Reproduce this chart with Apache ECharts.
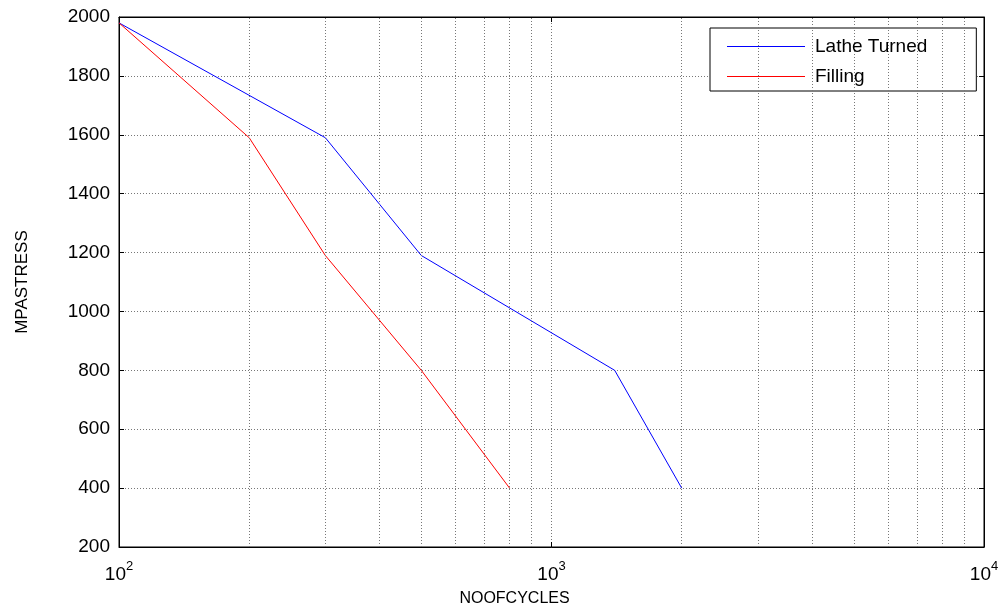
<!DOCTYPE html>
<html>
<head>
<meta charset="utf-8">
<script src="https://cdn.jsdelivr.net/npm/echarts@6/dist/echarts.min.js"></script>
<style>
  html, body { margin: 0; padding: 0; background: #fff; }
  #chart { width: 1003px; height: 612px; }
</style>
</head>
<body>
<div id="chart"></div>
<script>
// cycles vs stress
let latheCycles = [100, 300, 500, 1400, 2000];
let latheStress = [1980, 1590, 1190, 800, 400];
let fillCycles = [100, 200, 300, 500, 800];
let fillStress = [1980, 1590, 1190, 800, 400];

// minor log grid positions (2..9 x 10^n)
let minorX = [200, 300, 400, 500, 600, 700, 800, 900,
  2000, 3000, 4000, 5000, 6000, 7000, 8000, 9000];

const FONT = '"Liberation Sans", Arial, sans-serif';
const GRIDLINE = { color: '#777', type: [1, 2], width: 1 };

let pairs = (xs, ys) => xs.map((x, i) => [x, ys[i]]);

let chart = echarts.init(document.getElementById('chart'), null, { renderer: 'canvas' });

let logAxis = {
  type: 'log',
  logBase: 10,
  min: 100, max: 10000,
  axisLine: { lineStyle: { color: '#000' } },
  axisTick: { inside: true, length: 5, lineStyle: { color: '#000' } },
};

let stressAxis = {
  type: 'value',
  min: 200, max: 2000, interval: 200,
  axisLine: { show: true, lineStyle: { color: '#000' } },
  axisTick: { show: true, inside: true, length: 5, lineStyle: { color: '#000' } },
};

let options = {
  backgroundColor: '#ffffff',
  animation: false,
  textStyle: { fontFamily: FONT, color: '#000' },
  grid: {
    left: 119, right: 19, top: 17, bottom: 64,
    show: true, borderColor: '#000', borderWidth: 1,
  },
  legend: {
    left: 710, top: 28,
    orient: 'vertical',
    backgroundColor: '#fff',
    borderColor: '#000', borderWidth: 1,
    padding: [9, 49, 5, 17],
    itemGap: 11,
    itemWidth: 78, itemHeight: 1,
    icon: 'rect',
    textStyle: { fontFamily: FONT, fontSize: 19, color: '#000', padding: [0, 0, 0, 5] },
    data: ['Lathe Turned', 'Filling'],
  },
  xAxis: [
    {
      ...logAxis,
      name: 'NOOFCYCLES',
      nameLocation: 'middle',
      nameGap: 44,
      nameTextStyle: { fontFamily: FONT, fontSize: 16, color: '#000', padding: [0, 74, 0, 0] },
      axisLabel: {
        margin: 8,
        color: '#000',
        formatter: (v) => '{b|10}{s|' + Math.round(Math.log10(v)) + '}',
        rich: {
          b: { fontFamily: FONT, fontSize: 19, color: '#000', padding: [10, 0, 0, 0] },
          s: { fontFamily: FONT, fontSize: 13, color: '#000', padding: [0, 0, 6, 0] },
        },
      },
      splitLine: { show: true, lineStyle: GRIDLINE },
    },
    {
      ...logAxis,
      position: 'top',
      axisLabel: { show: false },
      splitLine: { show: false },
    },
  ],
  yAxis: [
    {
      ...stressAxis,
      name: 'MPASTRESS',
      nameLocation: 'middle',
      nameGap: 88,
      nameTextStyle: { fontFamily: FONT, fontSize: 17, color: '#000' },
      axisLabel: { fontFamily: FONT, fontSize: 19, color: '#000', margin: 9, formatter: (v) => String(v) },
      splitLine: { show: true, lineStyle: GRIDLINE },
    },
    {
      ...stressAxis,
      position: 'right',
      axisLabel: { show: false },
      splitLine: { show: false },
    },
  ],
  series: [
    {
      name: 'Lathe Turned',
      type: 'line',
      data: pairs(latheCycles, latheStress),
      showSymbol: false,
      color: '#0000ff',
      lineStyle: { width: 1, color: '#0000ff' },
      markLine: {
        silent: true,
        symbol: 'none',
        label: { show: false },
        lineStyle: GRIDLINE,
        data: minorX.map((x) => ({ xAxis: x })),
      },
    },
    {
      name: 'Filling',
      type: 'line',
      data: pairs(fillCycles, fillStress),
      showSymbol: false,
      color: '#ff0000',
      lineStyle: { width: 1, color: '#ff0000' },
    },
  ],
};

chart.setOption(options);
</script>
</body>
</html>
